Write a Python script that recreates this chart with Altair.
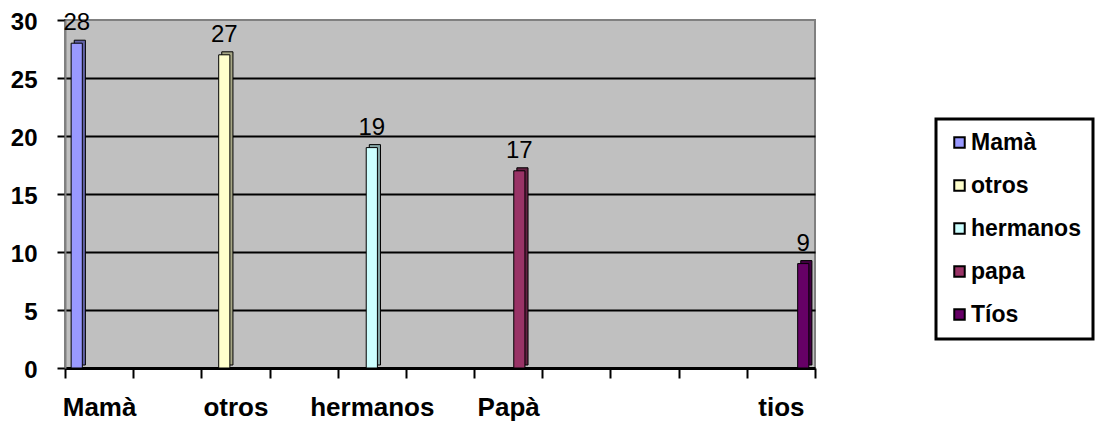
import altair as alt
import pandas as pd

# category slots on the x axis (11 slots, only some labelled)
slot_labels = ["Mamà", "", "otros", "", "hermanos", "", "Papà", "", "", "", "tios"]

# series
series = ["Mamà", "otros", "hermanos", "papa", "Tíos"]
values = [28, 27, 19, 17, 9]
slots = [0, 2, 4, 6, 10]
colors = ["#9999FF", "#FFFFCC", "#CCFFFF", "#993366", "#660066"]

df = pd.DataFrame({"serie": series, "valor": values, "slot": slots})

FONT = "Liberation Sans"
label_expr = "[" + ",".join("'" + s + "'" for s in slot_labels) + "][datum.value]"

x_enc = alt.X(
    "slot:O",
    scale=alt.Scale(domain=list(range(len(slot_labels))), paddingInner=0, paddingOuter=0),
    axis=alt.Axis(
        title=None,
        labelExpr=label_expr,
        labelAngle=0,
        labelFont=FONT,
        labelFontSize=26,
        labelFontWeight="bold",
        labelColor="black",
        labelPadding=16,
        labelBaseline="top",
        tickBand="extent",
        tickColor="black",
        tickSize=10,
        tickWidth=2,
        domainColor="black",
        domainWidth=3,
        grid=False,
    ),
)
y_enc = alt.Y(
    "valor:Q",
    scale=alt.Scale(domain=[0, 30], nice=False),
    axis=alt.Axis(
        title=None,
        values=[0, 5, 10, 15, 20, 25, 30],
        labelFont=FONT,
        labelFontSize=24,
        labelFontWeight="bold",
        labelColor="black",
        labelPadding=20,
        labelOffset=2,
        tickColor="black",
        tickSize=8,
        tickWidth=2,
        domainColor="#808080",
        domainWidth=2,
        grid=True,
        gridColor="black",
        gridWidth=2,
        gridOpacity={"condition": {"test": "datum.value === 0 || datum.value === 30", "value": 0}, "value": 1},
    ),
)
color_enc = alt.Color(
    "serie:N",
    scale=alt.Scale(domain=series, range=colors),
    legend=alt.Legend(
        title=None,
        orient="none",
        legendX=871,
        legendY=99,
        symbolType="square",
        symbolSize=110,
        symbolStrokeColor="black",
        symbolStrokeWidth=2,
        symbolOpacity=1,
        labelFont=FONT,
        labelFontSize=23,
        labelFontWeight="bold",
        labelColor="black",
        labelOffset=0,
        rowPadding=19,
        padding=12,
        strokeColor="black",
        fillColor="white",
    ),
)

base = alt.Chart(df)
front_offset = alt.XOffset("serie:N", scale=alt.Scale(domain=series, paddingOuter=0.55, paddingInner=0))
# same slots shifted a few pixels right, for the 3D side face
depth_offset = alt.XOffset(
    "serie:N", scale=alt.Scale(domain=series, paddingOuter=0.55, paddingInner=0, align=0.75)
)

depth = base.mark_bar(stroke="black", strokeWidth=1, opacity=1, yOffset=-3).encode(
    x=x_enc, xOffset=depth_offset, y=y_enc, color=color_enc
)
shade = base.mark_bar(color="black", opacity=0.35, yOffset=-3).encode(
    x=alt.X("slot:O"), xOffset=depth_offset, y="valor:Q"
)
depth_layer = alt.layer(depth, shade)

bars = base.mark_bar(stroke="black", strokeWidth=1, opacity=1).encode(
    x=alt.X("slot:O"), xOffset=front_offset, y="valor:Q", color=alt.Color("serie:N")
)
labels = base.mark_text(
    font=FONT, fontSize=24, color="black", dy=-8, baseline="bottom", align="center"
).encode(x=alt.X("slot:O"), xOffset=front_offset, y="valor:Q", text="valor:Q")
front_layer = alt.layer(bars, labels)

chart = (
    alt.layer(depth_layer, front_layer)
    .resolve_scale(xOffset="independent")
    .properties(
        width=750,
        height=348,
        autosize=alt.AutoSizeParams(type="none"),
        padding={"left": 57, "top": 12, "right": 282, "bottom": 54},
        background="white",
    )
    .configure_view(fill="#C0C0C0", stroke="#808080", strokeWidth=2)
    .configure_legend(strokeWidth=3)
)

chart.save("out.html", embed_options={"renderer": "svg", "actions": False})
